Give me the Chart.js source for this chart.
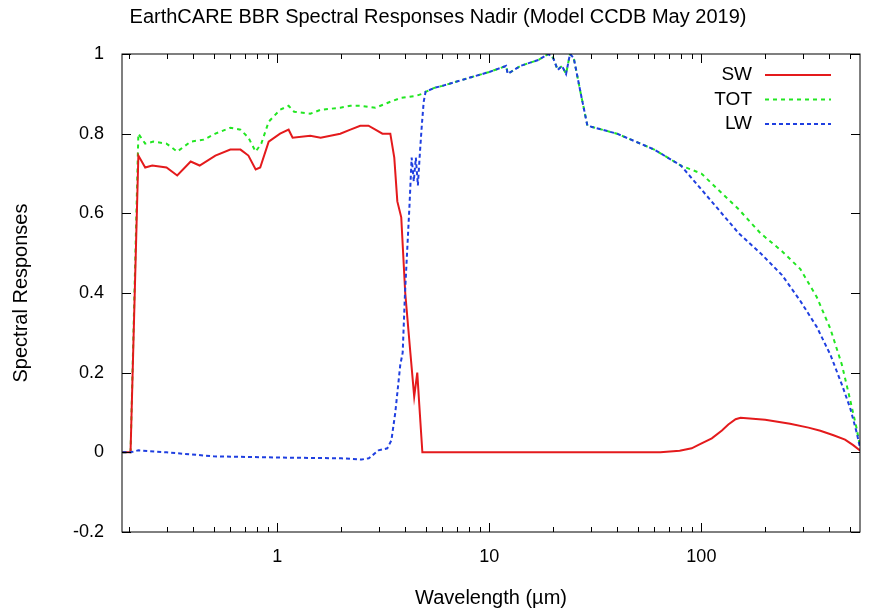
<!DOCTYPE html>
<html>
<head>
<meta charset="utf-8">
<script src="https://cdn.jsdelivr.net/npm/chart.js@4"></script>
<style>
  body { margin: 0; background: #fff; }
  #wrap { width: 881px; height: 614px; }
</style>
</head>
<body>
<div id="wrap"><canvas id="c"></canvas></div>
<script>
// Wavelengths (um) and responses
const swX = [0.186, 0.203, 0.221, 0.238, 0.257, 0.30, 0.337, 0.39, 0.43, 0.51, 0.6, 0.67, 0.73, 0.79, 0.83, 0.91, 1.03, 1.13, 1.18, 1.43, 1.6, 1.98, 2.21, 2.46, 2.69, 2.9, 3.13, 3.41, 3.56, 3.68, 3.84, 4.01, 4.24, 4.42, 4.57, 4.67, 4.83, 10, 40, 64, 79, 90, 98, 112, 125, 134, 145, 153, 200, 262, 320, 364, 420, 476, 520, 562];
const swY = [0, 0, 0.745, 0.715, 0.72, 0.715, 0.695, 0.73, 0.72, 0.745, 0.76, 0.76, 0.745, 0.71, 0.715, 0.78, 0.80, 0.81, 0.79, 0.795, 0.79, 0.80, 0.81, 0.82, 0.82, 0.81, 0.80, 0.80, 0.74, 0.63, 0.59, 0.40, 0.25, 0.14, 0.20, 0.12, 0.0, 0.0, 0.0, 0.0, 0.004, 0.01, 0.02, 0.035, 0.055, 0.07, 0.083, 0.087, 0.082, 0.072, 0.062, 0.054, 0.043, 0.032, 0.018, 0.004];

const totX = [0.186, 0.203, 0.221, 0.238, 0.26, 0.30, 0.337, 0.39, 0.45, 0.51, 0.6, 0.67, 0.73, 0.79, 0.84, 0.91, 1.03, 1.13, 1.2, 1.43, 1.6, 1.98, 2.21, 2.46, 2.9, 3.41, 3.84, 4.5, 4.83, 5.0, 5.5, 6, 8, 10, 12, 12.2, 14, 17, 19, 20, 21, 22, 23, 24, 25, 27, 29, 40, 60, 80, 100, 150, 190, 240, 293, 350, 406, 460, 504, 540, 562];
const totY = [0, 0, 0.80, 0.775, 0.78, 0.775, 0.755, 0.78, 0.785, 0.80, 0.815, 0.81, 0.79, 0.755, 0.775, 0.83, 0.86, 0.87, 0.855, 0.85, 0.86, 0.865, 0.87, 0.87, 0.865, 0.88, 0.89, 0.895, 0.90, 0.905, 0.915, 0.92, 0.94, 0.955, 0.97, 0.95, 0.97, 0.985, 1.0, 0.99, 0.96, 0.97, 0.95, 1.0, 0.99, 0.90, 0.82, 0.80, 0.76, 0.72, 0.70, 0.61, 0.55, 0.505, 0.46, 0.39, 0.31, 0.22, 0.13, 0.06, 0.01];

const lwX = [0.186, 0.203, 0.221, 0.3, 0.5, 1, 2, 2.5, 2.7, 3.0, 3.3, 3.45, 3.6, 3.8, 3.9, 4.0, 4.2, 4.3, 4.4, 4.5, 4.6, 4.7, 4.8, 4.9, 5.0, 5.5, 6, 8, 10, 12, 12.2, 14, 17, 19, 20, 21, 22, 23, 24, 25, 27, 29, 40, 60, 80, 100, 150, 190, 240, 293, 350, 406, 460, 504, 540, 562];
const lwY = [0, 0, 0.005, 0.0, -0.01, -0.013, -0.015, -0.018, -0.015, 0.005, 0.01, 0.03, 0.10, 0.22, 0.25, 0.40, 0.62, 0.74, 0.68, 0.74, 0.67, 0.75, 0.82, 0.88, 0.905, 0.915, 0.92, 0.94, 0.955, 0.97, 0.95, 0.97, 0.985, 1.0, 0.99, 0.96, 0.97, 0.95, 1.0, 0.99, 0.90, 0.82, 0.80, 0.76, 0.72, 0.66, 0.55, 0.50, 0.445, 0.38, 0.315, 0.245, 0.17, 0.11, 0.05, 0.008];

const xLabels = [1, 10, 100];
const yTicks = [-0.2, 0, 0.2, 0.4, 0.6, 0.8, 1];

const FONT = '"Liberation Sans", Arial, sans-serif';
const pts = (xs, ys) => xs.map((x, i) => ({ x: x, y: ys[i] }));

// gnuplot style: inward ticks, box border, title, legend inside top right
const gnuplotDecor = {
    id: 'gnuplotDecor',
    afterDraw(chart) {
        const { ctx, chartArea: a, scales } = chart;
        ctx.save();
        ctx.strokeStyle = '#000';
        ctx.lineWidth = 1;
        ctx.setLineDash([]);
        ctx.strokeRect(a.left, a.top, a.right - a.left, a.bottom - a.top);
        ctx.beginPath();
        yTicks.forEach(v => {
            const y = Math.round(scales.y.getPixelForValue(v)) + 0.5;
            ctx.moveTo(a.left, y); ctx.lineTo(a.left + 9, y);
            ctx.moveTo(a.right, y); ctx.lineTo(a.right - 9, y);
        });
        for (let d = -1; d <= 2; d++) {
            for (let m = 1; m <= 9; m++) {
                const v = m * Math.pow(10, d);
                if (v < scales.x.min || v > scales.x.max) continue;
                const x = Math.round(scales.x.getPixelForValue(v)) + 0.5;
                const len = m === 1 ? 9 : 5;
                ctx.moveTo(x, a.bottom); ctx.lineTo(x, a.bottom - len);
                ctx.moveTo(x, a.top); ctx.lineTo(x, a.top + len);
            }
        }
        ctx.stroke();

        ctx.fillStyle = '#000';
        ctx.font = '20px ' + FONT;
        ctx.textAlign = 'center';
        ctx.textBaseline = 'middle';
        ctx.fillText('EarthCARE BBR Spectral Responses Nadir (Model CCDB May 2019)', 438, 17);

        const items = chart.data.datasets;
        ctx.font = '19px ' + FONT;
        ctx.textAlign = 'right';
        items.forEach((ds, i) => {
            const y = 75 + i * 24.5;
            ctx.fillStyle = '#000';
            ctx.fillText(ds.label, 752, y);
            ctx.strokeStyle = ds.borderColor;
            ctx.lineWidth = 2;
            ctx.setLineDash(ds.borderDash || []);
            ctx.beginPath();
            ctx.moveTo(765, y); ctx.lineTo(831, y);
            ctx.stroke();
        });
        ctx.restore();
    }
};

new Chart(document.getElementById('c'), {
    type: 'line',
    data: {
        datasets: [
            { label: 'SW', data: pts(swX, swY), borderColor: '#e41a1c', borderWidth: 2, order: 1 },
            { label: 'TOT', data: pts(totX, totY), borderColor: '#22e622', borderWidth: 2, borderDash: [4, 4], order: 2 },
            { label: 'LW', data: pts(lwX, lwY), borderColor: '#1f3fe0', borderWidth: 2, borderDash: [4, 3], order: 0 }
        ]
    },
    options: {
        responsive: true,
        maintainAspectRatio: false,
        animation: false,
        elements: { point: { radius: 0 }, line: { tension: 0 } },
        layout: { padding: { top: 54, right: 21, left: 5, bottom: 0 } },
        plugins: { legend: { display: false }, tooltip: { enabled: false } },
        scales: {
            x: {
                type: 'logarithmic',
                min: 0.185,
                max: 560,
                grid: { display: false },
                border: { display: false },
                afterBuildTicks: s => { s.ticks = xLabels.map(v => ({ value: v })); },
                afterFit: s => { s.height = 82; },
                ticks: {
                    color: '#000',
                    font: { family: FONT, size: 18 },
                    maxRotation: 0,
                    padding: 6,
                    callback: v => String(v)
                },
                title: { display: true, text: 'Wavelength (\u00b5m)', color: '#000', font: { family: FONT, size: 20 }, padding: { top: 6 } }
            },
            y: {
                min: -0.2,
                max: 1,
                grid: { display: false },
                border: { display: false },
                afterBuildTicks: s => { s.ticks = yTicks.map(v => ({ value: v })); },
                afterFit: s => { s.width = 117; },
                ticks: {
                    color: '#000',
                    font: { family: FONT, size: 18 },
                    padding: 10,
                    callback: v => String(Math.round(v * 10) / 10)
                },
                title: { display: true, text: 'Spectral Responses', color: '#000', font: { family: FONT, size: 20 } }
            }
        }
    },
    plugins: [gnuplotDecor]
});
</script>
</body>
</html>
